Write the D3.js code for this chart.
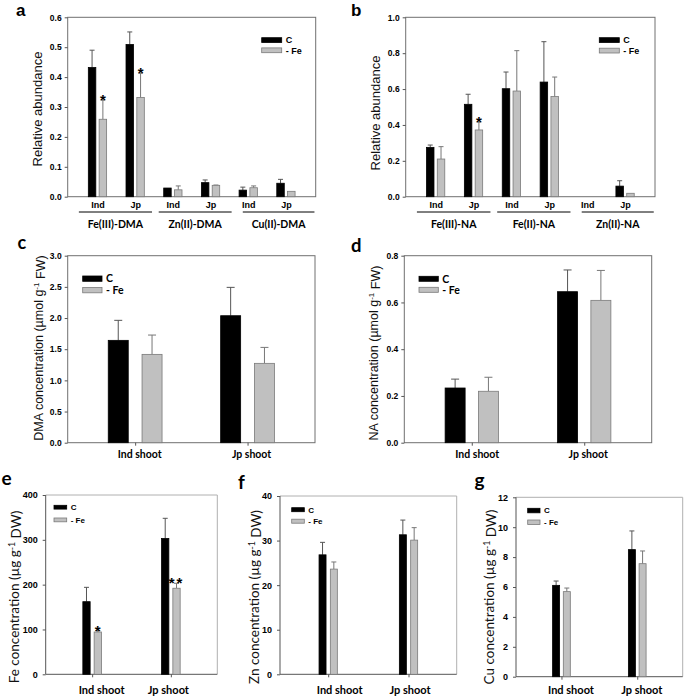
<!DOCTYPE html>
<html><head><meta charset="utf-8">
<script src="https://cdn.jsdelivr.net/npm/d3@7"></script>
<style>body{margin:0;background:#fff} svg{display:block}</style>
</head><body>
<svg id="fig" width="685" height="697"></svg>
<script>
// ---------------- DATA ----------------
const seriesNames = ["C", "- Fe"];

// Panel a
const aCategories = ["Ind", "Jp", "Ind", "Jp", "Ind", "Jp"];
const aGroups = ["Fe(III)-DMA", "Zn(II)-DMA", "Cu(II)-DMA"];
const aC = [0.432, 0.509, 0.029, 0.047, 0.022, 0.045];
const aCErr = [0.058, 0.042, 0.0, 0.009, 0.010, 0.013];
const aFe = [0.259, 0.332, 0.023, 0.038, 0.030, 0.018];
const aFeErr = [0.064, 0.081, 0.013, 0.001, 0.006, 0.0];
const aSig = ["*", "*", "", "", "", ""];
const aTicks = [0, 0.1, 0.2, 0.3, 0.4, 0.5, 0.6];

// Panel b
const bCategories = ["Ind", "Jp", "Ind", "Jp", "Ind", "Jp"];
const bGroups = ["Fe(III)-NA", "Fe(II)-NA", "Zn(II)-NA"];
const bC = [0.275, 0.515, 0.602, 0.639, 0.0, 0.059];
const bCErr = [0.013, 0.056, 0.093, 0.225, 0.0, 0.030];
const bFe = [0.210, 0.372, 0.589, 0.558, 0.0, 0.019];
const bFeErr = [0.069, 0.044, 0.225, 0.109, 0.0, 0.0];
const bSig = ["", "*", "", "", "", ""];
const bTicks = [0, 0.2, 0.4, 0.6, 0.8, 1.0];

// Panel c
const shootCategories = ["Ind shoot", "Jp shoot"];
const cC = [1.642, 2.037];
const cCErr = [0.321, 0.455];
const cFe = [1.417, 1.273];
const cFeErr = [0.310, 0.256];
const cTicks = [0, 0.5, 1.0, 1.5, 2.0, 2.5, 3.0];

// Panel d
const dC = [0.234, 0.646];
const dCErr = [0.038, 0.093];
const dFe = [0.220, 0.609];
const dFeErr = [0.060, 0.128];
const dTicks = [0, 0.2, 0.4, 0.6, 0.8];

// Panel e
const eC = [162, 303];
const eCErr = [32, 45];
const eFe = [94.4, 192];
const eFeErr = [3, 11];
const eSig = ["*", "**"];
const eTicks = [0, 100, 200, 300, 400];

// Panel f
const fC = [26.8, 31.3];
const fCErr = [2.8, 3.3];
const fFe = [23.6, 30.1];
const fFeErr = [1.6, 2.8];
const fTicks = [0, 10, 20, 30, 40];

// Panel g
const gC = [6.11, 8.50];
const gCErr = [0.29, 1.25];
const gFe = [5.69, 7.56];
const gFeErr = [0.24, 0.85];
const gTicks = [0, 2, 4, 6, 8, 10, 12];

// ---------------- DRAWING ----------------
const svg = d3.select("#fig");
const ARIAL = "'Liberation Sans', Arial, sans-serif";
const NARROW = "'Liberation Sans Narrow', 'Arial Narrow', 'Liberation Sans', sans-serif";
const CAL = "Lato, 'Open Sans', sans-serif";
const GRAY = "#c0c0c0";

function panel(o) {
  const g = svg.append("g");
  const f = o.frame;
  const n = o.cats.length;
  const y = d3.scaleLinear().domain([o.ticks[0], o.ticks[o.ticks.length - 1]]).range([f.y1, f.y0]);
  const x = d3.scalePoint().domain(d3.range(n)).range([f.x0, f.x1]).padding(o.pad);

  // frame
  if (o.lightFrame) {
    g.append("path").attr("d", `M${f.x0},${f.y0}H${f.x1}V${f.y1}`)
      .attr("fill", "none").attr("stroke", "#b0b0b0").attr("stroke-width", 1);
    g.append("path").attr("d", `M${f.x0},${f.y0}V${f.y1}H${f.x1}`)
      .attr("fill", "none").attr("stroke", "#555").attr("stroke-width", 1);
  } else {
    g.append("rect").attr("x", f.x0).attr("y", f.y0).attr("width", f.x1 - f.x0).attr("height", f.y1 - f.y0)
      .attr("fill", "none").attr("stroke", "#707070").attr("stroke-width", 1);
  }

  // y axis
  const ya = g.append("g").attr("transform", `translate(${f.x0},0)`)
    .call(d3.axisLeft(y).tickValues(o.ticks).tickSize(3).tickPadding(o.tickPad || 4).tickFormat(o.fmt));
  ya.select(".domain").remove();
  ya.selectAll(".tick line").attr("stroke", "#555");
  ya.selectAll("text").attr("font-family", o.tickFont).attr("font-weight", "bold")
    .attr("font-size", o.tickSize).attr("fill", "#000");

  // x axis
  const xa = g.append("g").attr("transform", `translate(0,${f.y1})`)
    .call(d3.axisBottom(x).tickSize(o.xTick ? 3 : 0).tickPadding(o.xPad).tickFormat(i => o.cats[i]));
  xa.select(".domain").remove();
  xa.selectAll(".tick line").attr("stroke", "#555");
  xa.selectAll("text").attr("font-family", o.xFont).attr("font-weight", "bold")
    .attr("font-size", o.xSize).attr("fill", "#000")
    .attr("dx", (d, i) => o.xDx ? o.xDx[i] : 0);

  const bw = o.bw, gap = o.gap;
  const series = [
    { vals: o.C, err: o.CErr, fill: "#000", stroke: "#000", off: -gap / 2 - bw, ec: "#555" },
    { vals: o.Fe, err: o.FeErr, fill: GRAY, stroke: "#7a7a7a", off: gap / 2, ec: "#777" }
  ];
  series.forEach(s => {
    const bars = g.append("g");
    s.vals.forEach((v, i) => {
      if (v <= 0) return;
      const cx = x(i) + s.off + bw / 2;
      // error bar (upper only)
      if (s.err[i] > 0) {
        bars.append("line").attr("x1", cx).attr("x2", cx).attr("y1", y(v)).attr("y2", y(v + s.err[i]))
          .attr("stroke", s.ec).attr("stroke-width", 1);
        bars.append("line").attr("x1", cx - o.cap / 2).attr("x2", cx + o.cap / 2)
          .attr("y1", y(v + s.err[i])).attr("y2", y(v + s.err[i]))
          .attr("stroke", s.ec).attr("stroke-width", 1);
      }
      bars.append("rect").attr("x", x(i) + s.off).attr("y", y(v))
        .attr("width", bw).attr("height", y(0) - y(v))
        .attr("fill", s.fill).attr("stroke", s.stroke).attr("stroke-width", 0.8);
    });
  });

  // significance
  if (o.sig) {
    o.sig.forEach((t, i) => {
      if (!t) return;
      const cx = x(i) + gap / 2 + bw / 2;
      g.append("text").attr("x", cx).attr("y", y(o.Fe[i] + o.FeErr[i]) + 5)
        .attr("text-anchor", "middle").attr("font-family", ARIAL).attr("font-weight", "bold")
        .attr("letter-spacing", t.length > 1 ? 2 : 0)
        .attr("font-size", 15).text(t);
    });
  }

  // group lines & labels
  if (o.groups) {
    const W = f.x1 - f.x0;
    o.groupFrac.forEach((fr, k) => {
      const a = f.x0 + fr[0] * W, b = f.x0 + fr[1] * W;
      g.append("line").attr("x1", a).attr("x2", b).attr("y1", o.groupLineY).attr("y2", o.groupLineY)
        .attr("stroke", "#000").attr("stroke-width", 1);
      g.append("text").attr("x", (a + b) / 2).attr("y", o.groupLabelY).attr("text-anchor", "middle")
        .attr("font-family", CAL).attr("font-weight", "bold").attr("font-size", 10.5).text(o.groups[k]);
    });
  }

  // legend
  const L = o.legend;
  seriesNames.forEach((nm, k) => {
    const yy = L.y + k * L.dy;
    g.append("rect").attr("x", L.x).attr("y", yy).attr("width", L.w).attr("height", L.h)
      .attr("fill", k === 0 ? "#000" : GRAY).attr("stroke", k === 0 ? "#000" : "#7a7a7a").attr("stroke-width", 0.8);
    g.append("text").attr("x", L.x + L.w + 4).attr("y", yy + L.h / 2).attr("dy", "0.36em")
      .attr("font-family", L.font).attr("font-weight", "bold").attr("font-size", L.size).text(nm);
  });

  // y label
  const yl = g.append("text").attr("transform", `translate(${o.yLabel.x},${o.yLabel.y}) rotate(-90)`)
    .attr("text-anchor", "middle").attr("dy", "0.35em")
    .attr("font-family", o.yLabel.font).attr("font-size", o.yLabel.size).attr("fill", "#111");
  o.yLabel.parts.forEach(p => {
    if (p.sup) {
      yl.append("tspan").attr("dy", "-0.45em").attr("font-size", o.yLabel.size * 0.65).text(p.sup);
      yl.append("tspan").attr("dy", "0.45em").text(p.after);
    } else yl.append("tspan").text(p.t);
  });

  // panel letter
  svg.append("text").attr("x", o.letter.x).attr("y", o.letter.y).attr("font-family", o.letter.font)
    .attr("font-weight", "bold").attr("font-size", o.letter.size).text(o.letter.t);
}

const f1 = d3.format(".1f"), f0 = d3.format("d");
const abGroupFrac = [[0.045, 0.34], [0.367, 0.661], [0.706, 0.995]];

panel({
  frame: { x0: 67.7, x1: 315.7, y0: 17.3, y1: 196.7 }, pad: 0.79,
  cats: aCategories, C: aC, CErr: aCErr, Fe: aFe, FeErr: aFeErr, sig: aSig,
  ticks: aTicks, fmt: f1, tickFont: ARIAL, tickSize: 8.5, tickPad: 3,
  xFont: ARIAL, xSize: 9, xPad: 5, xTick: false,
  bw: 7.5, gap: 3.3, cap: 5,
  groups: aGroups, groupFrac: abGroupFrac, groupLineY: 212, groupLabelY: 227.7,
  legend: { x: 261.7, y: 37.7, w: 20, h: 4.8, dy: 10.2, font: ARIAL, size: 9 },
  yLabel: { x: 37.5, y: 109, font: ARIAL, size: 13, parts: [{ t: "Relative abundance" }] },
  letter: { x: 16, y: 15.5, t: "a", font: ARIAL, size: 17 }
});

panel({
  frame: { x0: 405.7, x1: 655, y0: 17.3, y1: 196.7 }, pad: 0.79,
  cats: bCategories, C: bC, CErr: bCErr, Fe: bFe, FeErr: bFeErr, sig: bSig,
  ticks: bTicks, fmt: f1, tickFont: ARIAL, tickSize: 8.5, tickPad: 3,
  xFont: ARIAL, xSize: 9, xPad: 5, xTick: false,
  bw: 7.5, gap: 3.3, cap: 5,
  groups: bGroups, groupFrac: abGroupFrac, groupLineY: 212, groupLabelY: 227.7,
  legend: { x: 599.3, y: 37.7, w: 20, h: 4.8, dy: 10.5, font: ARIAL, size: 9 },
  yLabel: { x: 375.5, y: 113, font: ARIAL, size: 13, parts: [{ t: "Relative abundance" }] },
  letter: { x: 351, y: 15.7, t: "b", font: ARIAL, size: 17 }
});

panel({
  frame: { x0: 67.7, x1: 315, y0: 255.7, y1: 442.7 }, pad: 0.6,
  cats: shootCategories, C: cC, CErr: cCErr, Fe: cFe, FeErr: cFeErr,
  ticks: cTicks, fmt: f1, tickFont: ARIAL, tickSize: 8.5, tickPad: 3,
  xFont: CAL, xSize: 10.5, xPad: 5, xTick: true, xDx: [4, 3.5],
  bw: 20, gap: 13.8, cap: 8,
  legend: { x: 82.7, y: 276, w: 19.3, h: 5.3, dy: 11.5, font: CAL, size: 10.5 },
  yLabel: { x: 38.5, y: 348, font: ARIAL, size: 12.5,
    parts: [{ t: "DMA concentration (\u00b5mol g" }, { sup: "-1", after: " FW)" }] },
  letter: { x: 17.5, y: 249.3, t: "c", font: CAL, size: 18 }
});

panel({
  frame: { x0: 404.3, x1: 651.7, y0: 255.7, y1: 442.7 }, pad: 0.6,
  cats: shootCategories, C: dC, CErr: dCErr, Fe: dFe, FeErr: dFeErr,
  ticks: dTicks, fmt: f1, tickFont: ARIAL, tickSize: 8.5, tickPad: 3,
  xFont: CAL, xSize: 10.5, xPad: 5, xTick: true, xDx: [5, 3.5],
  bw: 20, gap: 13.3, cap: 8,
  legend: { x: 419, y: 276.3, w: 19.3, h: 5, dy: 11, font: CAL, size: 10.5 },
  yLabel: { x: 373.5, y: 353, font: ARIAL, size: 12.5,
    parts: [{ t: "NA concentration (\u00b5mol g" }, { sup: "-1", after: " FW)" }] },
  letter: { x: 351, y: 251.7, t: "d", font: CAL, size: 18.5 }
});

panel({
  frame: { x0: 45.7, x1: 217.3, y0: 495, y1: 674.3 }, pad: 0.59, lightFrame: true,
  cats: shootCategories, C: eC, CErr: eCErr, Fe: eFe, FeErr: eFeErr, sig: eSig,
  ticks: eTicks, fmt: f0, tickFont: NARROW, tickSize: 9, tickPad: 5,
  xFont: CAL, xSize: 11, xPad: 9, xTick: true, xDx: [9, -3],
  bw: 7.3, gap: 4, cap: 5,
  legend: { x: 54, y: 505.3, w: 12.7, h: 3.8, dy: 12.7, font: NARROW, size: 8 },
  yLabel: { x: 14, y: 597, font: CAL, size: 13.5,
    parts: [{ t: "Fe concentration (\u00b5g g" }, { sup: "-1", after: " DW)" }] },
  letter: { x: 1.5, y: 485, t: "e", font: CAL, size: 19 }
});

panel({
  frame: { x0: 280, x1: 456.7, y0: 496, y1: 674.3 }, pad: 0.6, lightFrame: true,
  cats: shootCategories, C: fC, CErr: fCErr, Fe: fFe, FeErr: fFeErr,
  ticks: fTicks, fmt: f0, tickFont: NARROW, tickSize: 9, tickPad: 5,
  xFont: CAL, xSize: 11, xPad: 9, xTick: true, xDx: [11, 1],
  bw: 7, gap: 4.3, cap: 5,
  legend: { x: 291.7, y: 507.7, w: 12.6, h: 4, dy: 11.5, font: NARROW, size: 8 },
  yLabel: { x: 254, y: 597, font: CAL, size: 13.5,
    parts: [{ t: "Zn concentration (\u00b5g g" }, { sup: "-1", after: " DW)" }] },
  letter: { x: 238, y: 489.3, t: "f", font: CAL, size: 19 }
});

panel({
  frame: { x0: 516, x1: 682.7, y0: 497.3, y1: 676.7 }, pad: 0.6, lightFrame: true,
  cats: shootCategories, C: gC, CErr: gCErr, Fe: gFe, FeErr: gFeErr,
  ticks: gTicks, fmt: f0, tickFont: NARROW, tickSize: 9, tickPad: 5,
  xFont: CAL, xSize: 11, xPad: 7, xTick: true, xDx: [9, 4],
  bw: 7, gap: 3.7, cap: 5,
  legend: { x: 527.7, y: 508.3, w: 12.3, h: 4.5, dy: 11.7, font: NARROW, size: 8 },
  yLabel: { x: 489.5, y: 597, font: CAL, size: 13.5,
    parts: [{ t: "Cu concentration (\u00b5g g" }, { sup: "-1", after: " DW)" }] },
  letter: { x: 474.5, y: 486.7, t: "g", font: CAL, size: 19 }
});
</script>
</body></html>
